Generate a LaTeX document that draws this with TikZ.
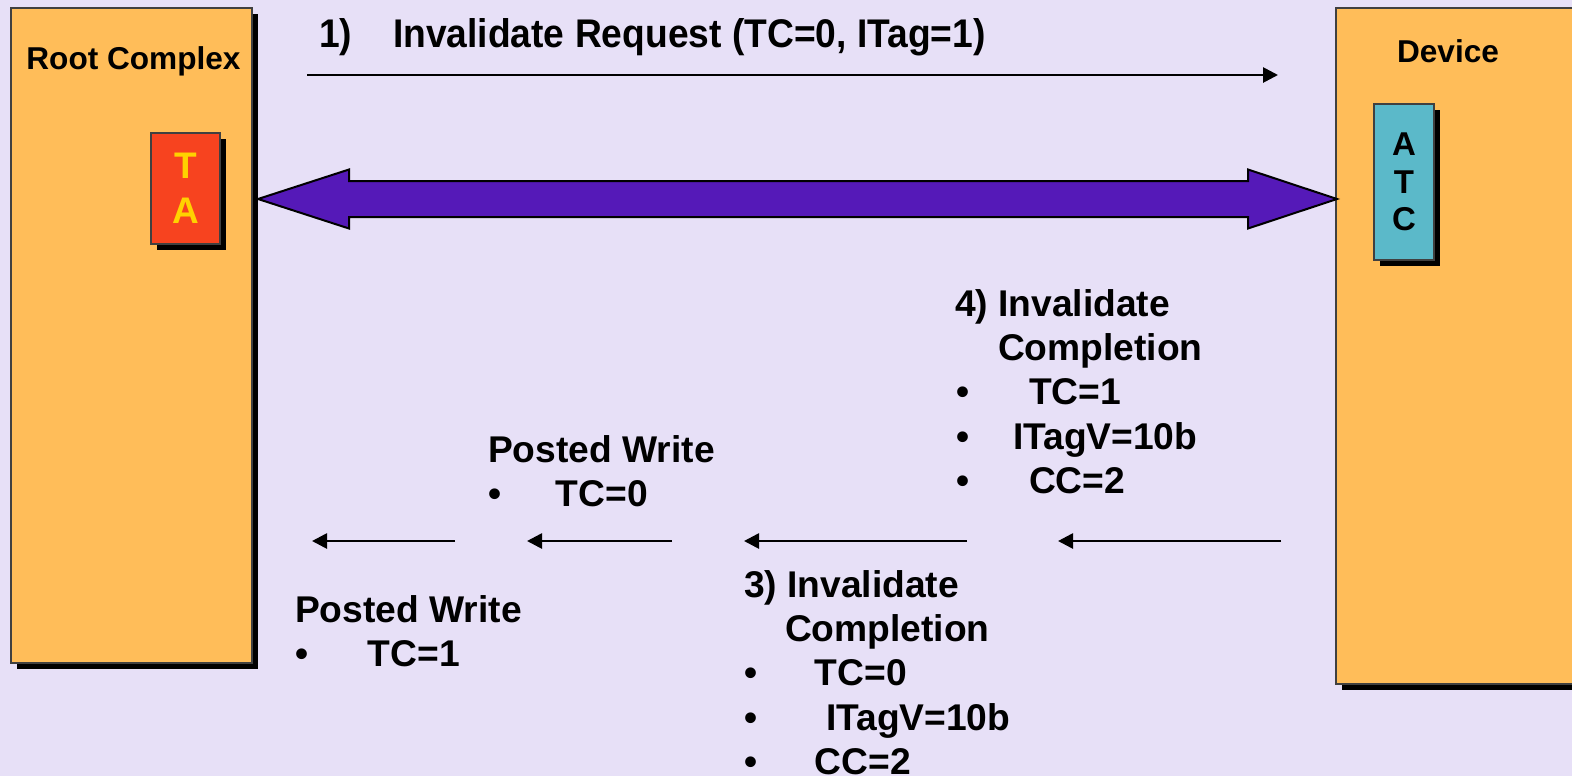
\documentclass[tikz,border=0pt]{standalone}
\usepackage{fontspec}
\setmainfont{Liberation Sans}
\newfontfamily\narrowfont[FakeStretch=0.93]{Liberation Sans}
\usetikzlibrary{arrows.meta,shadows,calc}

\definecolor{bgcol}{HTML}{E7E0F7}
\definecolor{unitorange}{HTML}{FFBD59}
\definecolor{tared}{HTML}{F7431F}
\definecolor{tayellow}{HTML}{FFD200}
\definecolor{atcteal}{HTML}{5BB9C9}
\definecolor{buspurple}{HTML}{5519B8}

% one bulleted line: bullet offset, gap from bullet to text, text
\newcommand\bulline[3]{\hbox{\kern#1\rlap{\textbullet}\kern#2\relax #3}}

\begin{document}
\begin{tikzpicture}[x=0.5pt,y=-0.5pt,
  unitbox/.style={draw=black!75, line width=0.7pt, inner sep=0pt, outer sep=0pt,
    anchor=north west,
    general shadow={fill=black, shadow xshift=2.8pt, shadow yshift=-2.8pt}},
  txt/.style={inner sep=0pt, outer sep=0pt, anchor=base west,
    font=\bfseries\fontsize{18.6pt}{22.2pt}\selectfont},
  unitlabel/.style={inner sep=0pt, outer sep=0pt, anchor=base,
    font=\bfseries\fontsize{15.8pt}{19pt}\selectfont},
  msgarrow/.style={line width=1.35pt, -{Triangle[length=7.5pt,width=7.5pt]}},
  busarrow/.style={draw=black, line width=1pt, fill=buspurple, line join=miter}
]
\useasboundingbox (0,0) rectangle (1572,776);
\clip (0,0) rectangle (1572,776);
\fill[bgcol] (0,0) rectangle (1572,776);

% the two units
\node[unitbox, fill=unitorange, minimum width=120.5pt, minimum height=327.5pt] (rc) at (11,8) {};
\node[unitbox, fill=unitorange, minimum width=130pt, minimum height=338pt] (dev) at (1336,8) {};
\node[unitlabel] (rclabel) at (133.5,69) {Root Complex};
\node[unitlabel] (devlabel) at (1448,62) {Device};

% translation agent and address translation cache
\node[unitbox, fill=tared, minimum width=34.5pt, minimum height=55.5pt, align=center,
  text=tayellow, font=\bfseries\fontsize{18.5pt}{22.5pt}\selectfont] (ta) at (151,133) {T\\A};
\node[unitbox, fill=atcteal, minimum width=30pt, minimum height=78pt, align=center,
  font=\bfseries\fontsize{16.5pt}{18.75pt}\selectfont] (atc) at (1374,104) {A\\T\\C};

% link between the units
\coordinate (busL) at (258,199);
\coordinate (busR) at (1337,199);
\path[busarrow] (busL) -- ($(busL)+(91,-29.5)$) -- ($(busL)+(91,-18)$)
  -- ($(busR)+(-89,-18)$) -- ($(busR)+(-89,-29.5)$) -- (busR)
  -- ($(busR)+(-89,29.5)$) -- ($(busR)+(-89,18)$)
  -- ($(busL)+(91,18)$) -- ($(busL)+(91,29.5)$) -- cycle;

% request towards the device
\node[anchor=base west, inner sep=0pt, outer sep=0pt,
  font=\narrowfont\bfseries\fontsize{20pt}{24pt}\selectfont] (req) at (319,47)
  {1)\kern20.5pt Invalidate Request (TC=0, ITag=1)};
\coordinate (reqS) at (307,75);
\coordinate (reqE) at (1278,75);
\draw[msgarrow] (reqS) -- (reqE);

% completions and posted writes back to the root complex
\coordinate (a1s) at (1281,541); \coordinate (a1e) at (1058,541);
\coordinate (a2s) at (967,541);  \coordinate (a2e) at (744,541);
\coordinate (a3s) at (672,541);  \coordinate (a3e) at (527,541);
\coordinate (a4s) at (455,541);  \coordinate (a4e) at (312,541);
\draw[msgarrow] (a1s) -- (a1e);
\draw[msgarrow] (a2s) -- (a2e);
\draw[msgarrow] (a3s) -- (a3e);
\draw[msgarrow] (a4s) -- (a4e);

\node[txt] (cpl4) at (955,316) {\vtop{%
  \hbox{4) Invalidate}
  \hbox{\kern21.5pt Completion}
  \bulline{0.5pt}{36.5pt}{TC=1}
  \bulline{0.5pt}{28.5pt}{ITagV=10b}
  \bulline{0.5pt}{36.5pt}{CC=2}}};

\node[txt] (cpl3) at (744,597) {\vtop{%
  \hbox{3) Invalidate}
  \hbox{\kern20.5pt Completion}
  \bulline{0pt}{35.5pt}{TC=0}
  \bulline{0pt}{41pt}{ITagV=10b}
  \bulline{0pt}{35.5pt}{CC=2}}};

\node[txt] (pw0) at (488,462) {\vtop{%
  \hbox{Posted Write}
  \bulline{0pt}{34pt}{TC=0}}};

\node[txt] (pw1) at (295,622) {\vtop{%
  \hbox{Posted Write}
  \bulline{0pt}{36.5pt}{TC=1}}};
\end{tikzpicture}
\end{document}
